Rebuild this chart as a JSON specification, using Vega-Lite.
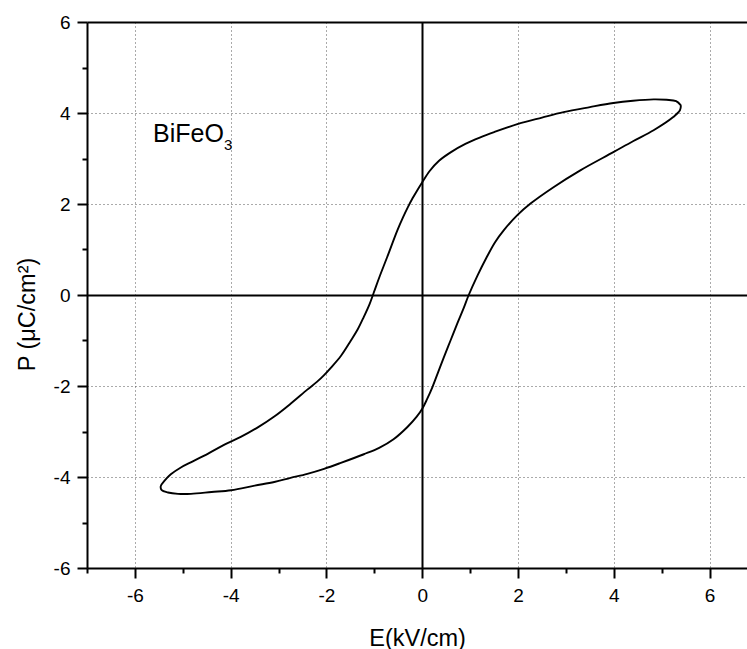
{
  "$schema": "https://vega.github.io/schema/vega-lite/v6.json",
  "width": 660,
  "height": 546,
  "autosize": {"type": "none"},
  "padding": {"left": 87, "top": 22, "right": 0, "bottom": 81},
  "background": "white",
  "config": {
    "view": {"stroke": null},
    "font": "Liberation Sans",
    "axis": {
      "labelFont": "Liberation Sans",
      "labelFontSize": 19,
      "labelColor": "black",
      "titleFont": "Liberation Sans",
      "titleFontSize": 23.5,
      "titleFontWeight": "normal",
      "titleColor": "black",
      "domainColor": "black",
      "domainWidth": 2,
      "tickColor": "black",
      "tickWidth": 2
    }
  },
  "encoding": {
    "x": {
      "field": "E",
      "type": "quantitative",
      "scale": {"domain": [-7, 6.78], "nice": false, "zero": false},
      "axis": {
        "title": "E(kV/cm)",
        "values": [-7, -6, -5, -4, -3, -2, -1, 0, 1, 2, 3, 4, 5, 6],
        "labelExpr": "datum.value % 2 === 0 ? '' + datum.value : ''",
        "labelPadding": 8,
        "titlePadding": 21,
        "tickSize": {"condition": {"test": "datum.value % 2 !== 0", "value": 5}, "value": 10},
        "grid": true,
        "gridColor": {"condition": {"test": "datum.value === 0", "value": "black"}, "value": "#555555"},
        "gridDash": {"condition": {"test": "datum.value === 0", "value": []}, "value": [1, 3]},
        "gridWidth": {"condition": {"test": "datum.value === 0", "value": 2}, "value": 1},
        "gridOpacity": {"condition": {"test": "datum.value % 2 !== 0", "value": 0}, "value": 1}
      }
    },
    "y": {
      "field": "P",
      "type": "quantitative",
      "scale": {"domain": [-6, 6], "nice": false, "zero": false},
      "axis": {
        "title": "P (μC/cm²)",
        "values": [-6, -5, -4, -3, -2, -1, 0, 1, 2, 3, 4, 5, 6],
        "labelExpr": "datum.value % 2 === 0 ? '' + datum.value : ''",
        "labelPadding": 7,
        "titlePadding": 14,
        "titleY": 292,
        "tickSize": {"condition": {"test": "datum.value % 2 !== 0", "value": 5}, "value": 10},
        "grid": true,
        "gridColor": {"condition": {"test": "datum.value === 0 || datum.value === 6", "value": "black"}, "value": "#555555"},
        "gridDash": {"condition": {"test": "datum.value === 0 || datum.value === 6", "value": []}, "value": [1, 3]},
        "gridWidth": {"condition": {"test": "datum.value === 0 || datum.value === 6", "value": 2}, "value": 1},
        "gridOpacity": {"condition": {"test": "datum.value % 2 !== 0", "value": 0}, "value": 1}
      }
    }
  },
  "layer": [
    {
      "data": {
        "values": [
          {"i": 1, "E": 5.40, "P": 4.17},
          {"i": 2, "E": 5.30, "P": 4.26},
          {"i": 3, "E": 5.10, "P": 4.29},
          {"i": 4, "E": 4.83, "P": 4.30},
          {"i": 5, "E": 4.40, "P": 4.27},
          {"i": 6, "E": 3.99, "P": 4.22},
          {"i": 7, "E": 3.50, "P": 4.13},
          {"i": 8, "E": 2.95, "P": 4.02},
          {"i": 9, "E": 2.50, "P": 3.90},
          {"i": 10, "E": 2.00, "P": 3.76},
          {"i": 11, "E": 1.50, "P": 3.58},
          {"i": 12, "E": 1.20, "P": 3.46},
          {"i": 13, "E": 0.90, "P": 3.32},
          {"i": 14, "E": 0.60, "P": 3.14},
          {"i": 15, "E": 0.35, "P": 2.95},
          {"i": 16, "E": 0.15, "P": 2.72},
          {"i": 17, "E": 0.00, "P": 2.48},
          {"i": 18, "E": -0.10, "P": 2.31},
          {"i": 19, "E": -0.20, "P": 2.13},
          {"i": 20, "E": -0.30, "P": 1.93},
          {"i": 21, "E": -0.40, "P": 1.71},
          {"i": 22, "E": -0.52, "P": 1.42},
          {"i": 23, "E": -0.73, "P": 0.84},
          {"i": 24, "E": -0.90, "P": 0.38},
          {"i": 25, "E": -1.01, "P": 0.06},
          {"i": 26, "E": -1.10, "P": -0.20},
          {"i": 27, "E": -1.22, "P": -0.48},
          {"i": 28, "E": -1.35, "P": -0.76},
          {"i": 29, "E": -1.49, "P": -1.00},
          {"i": 30, "E": -1.70, "P": -1.34},
          {"i": 31, "E": -1.91, "P": -1.60},
          {"i": 32, "E": -2.05, "P": -1.76},
          {"i": 33, "E": -2.20, "P": -1.91},
          {"i": 34, "E": -2.40, "P": -2.08},
          {"i": 35, "E": -2.75, "P": -2.39},
          {"i": 36, "E": -3.09, "P": -2.67},
          {"i": 37, "E": -3.45, "P": -2.92},
          {"i": 38, "E": -3.79, "P": -3.12},
          {"i": 39, "E": -4.15, "P": -3.30},
          {"i": 40, "E": -4.48, "P": -3.49},
          {"i": 41, "E": -4.80, "P": -3.66},
          {"i": 42, "E": -5.04, "P": -3.79},
          {"i": 43, "E": -5.25, "P": -3.94},
          {"i": 44, "E": -5.38, "P": -4.08},
          {"i": 45, "E": -5.46, "P": -4.20},
          {"i": 46, "E": -5.44, "P": -4.29},
          {"i": 47, "E": -5.31, "P": -4.34},
          {"i": 48, "E": -5.10, "P": -4.37},
          {"i": 49, "E": -4.83, "P": -4.37},
          {"i": 50, "E": -4.40, "P": -4.33},
          {"i": 51, "E": -3.99, "P": -4.29},
          {"i": 52, "E": -3.50, "P": -4.19},
          {"i": 53, "E": -3.09, "P": -4.11},
          {"i": 54, "E": -2.75, "P": -4.02},
          {"i": 55, "E": -2.40, "P": -3.93},
          {"i": 56, "E": -2.05, "P": -3.82},
          {"i": 57, "E": -1.70, "P": -3.69},
          {"i": 58, "E": -1.22, "P": -3.50},
          {"i": 59, "E": -0.90, "P": -3.36},
          {"i": 60, "E": -0.60, "P": -3.17},
          {"i": 61, "E": -0.31, "P": -2.90},
          {"i": 62, "E": -0.12, "P": -2.68},
          {"i": 63, "E": 0.00, "P": -2.50},
          {"i": 64, "E": 0.10, "P": -2.29},
          {"i": 65, "E": 0.21, "P": -2.03},
          {"i": 66, "E": 0.33, "P": -1.70},
          {"i": 67, "E": 0.45, "P": -1.37},
          {"i": 68, "E": 0.59, "P": -1.00},
          {"i": 69, "E": 0.73, "P": -0.63},
          {"i": 70, "E": 0.86, "P": -0.30},
          {"i": 71, "E": 0.97, "P": 0.00},
          {"i": 72, "E": 1.15, "P": 0.42},
          {"i": 73, "E": 1.35, "P": 0.84},
          {"i": 74, "E": 1.52, "P": 1.16},
          {"i": 75, "E": 1.70, "P": 1.42},
          {"i": 76, "E": 1.98, "P": 1.75},
          {"i": 77, "E": 2.26, "P": 2.01},
          {"i": 78, "E": 2.74, "P": 2.37},
          {"i": 79, "E": 3.30, "P": 2.74},
          {"i": 80, "E": 3.99, "P": 3.14},
          {"i": 81, "E": 4.40, "P": 3.38},
          {"i": 82, "E": 4.83, "P": 3.62},
          {"i": 83, "E": 5.24, "P": 3.91},
          {"i": 84, "E": 5.38, "P": 4.06},
          {"i": 85, "E": 5.40, "P": 4.17}
        ]
      },
      "mark": {"type": "line", "color": "black", "strokeWidth": 1.9, "interpolate": "catmull-rom", "clip": true},
      "encoding": {"order": {"field": "i", "type": "quantitative"}}
    },
    {
      "data": {"values": [{"label": "BiFeO", "E": -5.62, "P": 3.36}]},
      "mark": {"type": "text", "align": "left", "baseline": "alphabetic", "fontSize": 25, "font": "Liberation Sans", "color": "black"},
      "encoding": {"text": {"field": "label"}}
    },
    {
      "data": {"values": [{"label": "3", "E": -4.14, "P": 3.19}]},
      "mark": {"type": "text", "align": "left", "baseline": "alphabetic", "fontSize": 15, "font": "Liberation Sans", "color": "black"},
      "encoding": {"text": {"field": "label"}}
    }
  ]
}
